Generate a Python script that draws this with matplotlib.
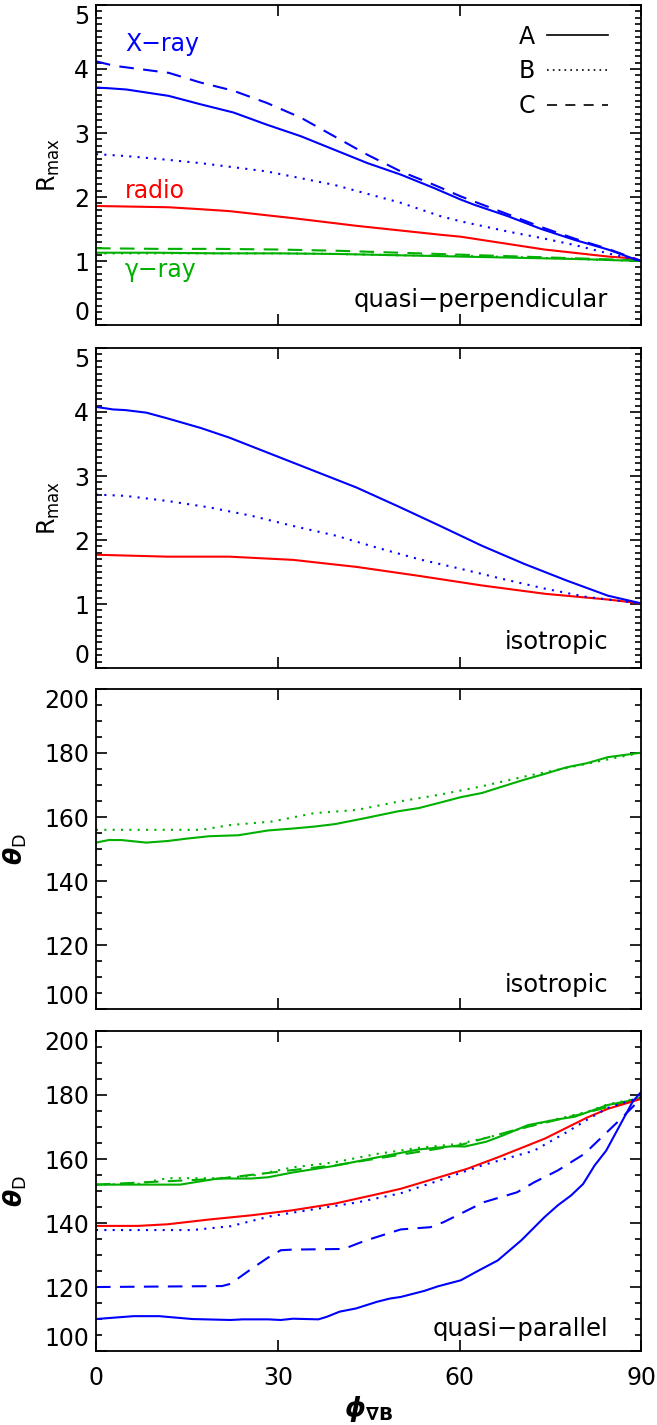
import matplotlib
matplotlib.use("Agg")
import numpy as np
import matplotlib.pyplot as plt
from matplotlib.lines import Line2D

plt.rcParams['font.family'] = ['DejaVu Sans']
plt.rcParams['mathtext.fontset'] = 'dejavusans'

BLUE = '#0000ff'
RED = '#ff0000'
GREEN = '#00b000'
DOT = (0, (1, 3))
DASH = (0, (7, 4.5))

# ---- panel 1: quasi-perpendicular, R_max
p1_xray_a_x = [0, 2, 5, 12, 17.2, 22.7, 28.2, 33.8, 39.3, 44.8, 50.3, 55.8, 60.2, 62.4, 68, 73.5, 79, 84.5, 88.9, 90]
p1_xray_a_y = [3.71, 3.70, 3.68, 3.58, 3.45, 3.32, 3.13, 2.95, 2.74, 2.53, 2.35, 2.14, 1.96, 1.88, 1.70, 1.50, 1.33,
               1.18, 1.03, 1.0]
p1_xray_b_x = [0, 5, 12, 17.2, 28.2, 39.3, 50.3, 56.9, 60.2, 68, 73.5, 79, 84.5, 90]
p1_xray_b_y = [2.67, 2.64, 2.58, 2.53, 2.40, 2.19, 1.91, 1.70, 1.62, 1.46, 1.36, 1.25, 1.12, 1.0]
p1_xray_c_x = [0, 3, 12, 17.2, 22.7, 28.2, 33.8, 39.3, 44.8, 50.3, 55.8, 60.2, 62.4, 68, 73.5, 79, 84.5, 90]
p1_xray_c_y = [4.12, 4.05, 3.94, 3.79, 3.66, 3.47, 3.24, 2.95, 2.66, 2.40, 2.19, 2.01, 1.93, 1.73, 1.53, 1.35, 1.19, 1.0]
p1_radio_x = [0, 12, 17.2, 22, 32.5, 43, 56.9, 60.2, 74, 84.5, 88.9, 90]
p1_radio_y = [1.86, 1.84, 1.81, 1.78, 1.67, 1.55, 1.41, 1.38, 1.18, 1.07, 1.04, 1.0]
p1_gam_x = [0, 10, 20, 30, 40, 50, 60, 70, 80, 90]
p1_gam_a_y = [1.13, 1.13, 1.12, 1.12, 1.11, 1.09, 1.07, 1.05, 1.03, 1.0]
p1_gam_b_y = [1.12, 1.12, 1.12, 1.12, 1.11, 1.09, 1.08, 1.06, 1.03, 1.0]
p1_gam_c_y = [1.20, 1.19, 1.19, 1.18, 1.16, 1.13, 1.10, 1.07, 1.04, 1.01]

# ---- panel 2: isotropic, R_max
p2_xray_a_x = [0, 2.8, 4.8, 8.3, 11.8, 17.3, 22, 29, 36, 43, 50, 56.8, 63.7, 70.6, 77.6, 84.5, 90]
p2_xray_a_y = [4.08, 4.04, 4.03, 3.99, 3.90, 3.75, 3.6, 3.34, 3.08, 2.82, 2.52, 2.22, 1.91, 1.63, 1.37, 1.13, 1.01]
p2_xray_b_x = [0, 4.8, 11.8, 18.7, 25.6, 32.5, 39.5, 46.4, 53.3, 60.2, 67.2, 74.1, 81, 90]
p2_xray_b_y = [2.71, 2.69, 2.61, 2.51, 2.38, 2.22, 2.07, 1.88, 1.70, 1.55, 1.39, 1.24, 1.11, 1.01]
p2_radio_x = [0, 11.8, 22, 32.5, 43, 53.3, 63.7, 74.1, 84.5, 90]
p2_radio_y = [1.77, 1.74, 1.74, 1.69, 1.58, 1.44, 1.29, 1.16, 1.07, 1.01]

# ---- panel 3: isotropic, theta_D
p3_gam_a_x = [0, 2.1, 4.2, 8.3, 11.8, 15.2, 18.7, 23.5, 28.4, 32.5, 36, 39.5, 44.3, 49.9,
              53.3, 56.8, 60.2, 63.7, 67.2, 70.6, 74.1, 77.6, 81, 84.5, 90]
p3_gam_a_y = [152, 152.8, 152.8, 152, 152.5, 153.3, 154, 154.3, 155.8, 156.4, 157, 157.8, 159.6, 161.8,
              162.8, 164.5, 166.2, 167.5, 169.6, 171.6, 173.5, 175.5, 176.8, 178.7, 180.1]
p3_gam_b_x = [0, 17.3, 22.2, 29.1, 36, 43, 49.9, 56.8, 63.7, 70.6, 77.6, 84.5, 90]
p3_gam_b_y = [156, 156, 157.5, 158.6, 161.2, 162.2, 164.8, 167, 169.6, 172.6, 175.3, 178, 180.1]

# ---- panel 4: quasi-parallel, theta_D
p4_xray_a_x = [0, 6.2, 10.4, 15.9, 22.2, 24.2, 28.4, 30.5, 32.5, 36.7, 38.1, 40.2, 42.9, 46.4, 48.5,
               50.3, 54.2, 56.4, 60.2, 63, 66.3, 70.2, 74, 76.2, 78.4, 80.4, 82.3, 84.2, 86.6, 88.6, 90]
p4_xray_a_y = [110, 110.9, 110.9, 110, 109.7, 109.9, 109.9, 109.7, 110.1, 109.9, 110.7, 112.3, 113.3, 115.4, 116.4,
               116.9, 118.8, 120.2, 122.1, 125, 128.3, 134.6, 141.8, 145.5, 148.6, 152.2, 158, 162.6, 171, 178, 181]
p4_xray_b_x = [0, 15.9, 22.2, 29, 36, 43, 50.3, 56.8, 63.7, 72.3, 77.6, 81, 84.5, 90]
p4_xray_b_y = [137.8, 137.8, 139, 142.2, 144.3, 146.4, 149.3, 153.4, 158, 162.6, 168.3, 172.2, 176, 179.4]
p4_xray_c_x = [0, 20.8, 22.2, 25.6, 28.4, 30.5, 32.5, 40.9, 44.3, 50.3, 55.2, 57.4, 64, 69.5, 72.3,
               76.2, 80.6, 86.6, 90]
p4_xray_c_y = [120, 120.3, 121, 125.6, 129.2, 131.5, 131.7, 131.9, 134.4, 138, 138.7, 140.3, 146.5, 149.6, 152.7,
               156.4, 161.6, 172.5, 179]
p4_radio_x = [0, 6.9, 11.8, 18.7, 25.6, 32.5, 39.5, 46.4, 50.3, 53.3, 61.2, 66.3, 74.1, 81, 84.5, 90]
p4_radio_y = [139.1, 139.1, 139.6, 141.1, 142.4, 144, 146.1, 149, 150.7, 152.4, 156.9, 160.5, 166.4, 172.9, 175.7,
              178.8]
p4_gam_a_x = [0, 13.9, 20.1, 25.6, 28.4, 32.5, 39.5, 46.4, 53.3, 58.9, 60.9, 64.4, 67.2, 71.3, 76.2, 79, 84.5, 90]
p4_gam_a_y = [152, 152, 153.9, 153.9, 154.3, 155.8, 157.9, 160.5, 163, 164, 163.9, 165.4, 167.4, 170.6, 172.4,
              173.2, 176.9, 178.9]
p4_gam_b_x = [0, 6.9, 11.8, 20.1, 25.6, 32.5, 39.5, 46.4, 53.3, 60.2, 67.2, 74.1, 81, 84.5, 90]
p4_gam_b_y = [152, 152.2, 154, 154, 154.7, 157.4, 159, 161.6, 163.5, 164.8, 167.9, 171.6, 174.7, 177.1, 179.2]
p4_gam_c_x = [0, 20, 40, 60, 70, 80, 90]
p4_gam_c_y = [152, 153.8, 158.2, 164.3, 169.5, 174, 179]

xticks = [0, 30, 60, 90]
lw = 1.5

fig = plt.figure(figsize=(6.57, 14.25), dpi=100)
left, width, height = 0.1461, 0.830, 0.2246
bottoms = [0.7719, 0.5312, 0.2919, 0.0519]
axes = [fig.add_axes([left, b, width, height]) for b in bottoms]


def style(ax, ylo, yhi, major, minor, show_x=False):
    ax.set_xlim(0, 90)
    ax.set_ylim(ylo, yhi)
    ax.set_xticks(xticks)
    ax.set_yticks(np.arange(ylo, yhi + major / 2, major))
    ax.set_yticks(np.arange(ylo, yhi + minor / 2, minor), minor=True)
    ax.tick_params(which='both', direction='in', top=True, right=True, width=1.2)
    ax.tick_params(which='major', length=8, labelsize=17, pad=5)
    ax.tick_params(which='minor', length=4.5)
    ax.tick_params(axis='x', pad=11)
    if not show_x:
        ax.set_xticklabels([])
    for s in ax.spines.values():
        s.set_linewidth(1.3)
    labs = ax.get_yticklabels()
    labs[0].set_va('bottom')
    labs[-1].set_va('top')


# panel 1
ax = axes[0]
ax.plot(p1_gam_x, p1_gam_c_y, color=GREEN, lw=lw, ls=DASH)
ax.plot(p1_gam_x, p1_gam_b_y, color=GREEN, lw=lw, ls=DOT)
ax.plot(p1_gam_x, p1_gam_a_y, color=GREEN, lw=lw)
ax.plot(p1_radio_x, p1_radio_y, color=RED, lw=lw)
ax.plot(p1_xray_b_x, p1_xray_b_y, color=BLUE, lw=lw, ls=DOT)
ax.plot(p1_xray_c_x, p1_xray_c_y, color=BLUE, lw=lw, ls=DASH)
ax.plot(p1_xray_a_x, p1_xray_a_y, color=BLUE, lw=lw)
style(ax, 0, 5, 1, 0.1)
ax.text(4.8, 4.39, 'X\u2212ray', color=BLUE, fontsize=17, va='center')
ax.text(4.8, 2.09, 'radio', color=RED, fontsize=17, va='center')
ax.text(4.8, 0.86, '\u03b3\u2212ray', color=GREEN, fontsize=17, va='center')
ax.text(84.5, 0.39, 'quasi\u2212perpendicular', fontsize=17.5, ha='right', va='center')
handles = [Line2D([], [], color='k', lw=1.2),
           Line2D([], [], color='k', lw=1.2, ls=(0, (1, 2.5))),
           Line2D([], [], color='k', lw=1.2, ls=(0, (6, 5)))]
ax.legend(handles, ['A', 'B', 'C'], loc='upper right', bbox_to_anchor=(0.97, 0.99),
          frameon=False, markerfirst=False, fontsize=17, handlelength=2.6,
          handletextpad=0.5, labelspacing=0.45, borderpad=0.2)
ax.set_ylabel(r'R$_{\rm max}$', fontsize=17)
ax.yaxis.set_label_coords(-0.062, 0.5)

# panel 2
ax = axes[1]
ax.plot(p2_radio_x, p2_radio_y, color=RED, lw=lw)
ax.plot(p2_xray_b_x, p2_xray_b_y, color=BLUE, lw=lw, ls=DOT)
ax.plot(p2_xray_a_x, p2_xray_a_y, color=BLUE, lw=lw)
style(ax, 0, 5, 1, 0.1)
ax.text(84.5, 0.4, 'isotropic', fontsize=17.5, ha='right', va='center')
ax.set_ylabel(r'R$_{\rm max}$', fontsize=17)
ax.yaxis.set_label_coords(-0.062, 0.5)

# panel 3
ax = axes[2]
ax.plot(p3_gam_b_x, p3_gam_b_y, color=GREEN, lw=lw, ls=DOT)
ax.plot(p3_gam_a_x, p3_gam_a_y, color=GREEN, lw=lw)
style(ax, 100, 200, 20, 5)
ax.text(84.5, 107.6, 'isotropic', fontsize=17.5, ha='right', va='center')
ax.set_ylabel(r'$\mathbfit{\theta}_{\rm D}$', fontsize=18)
ax.yaxis.set_label_coords(-0.123, 0.5)

# panel 4
ax = axes[3]
ax.plot(p4_gam_c_x, p4_gam_c_y, color=GREEN, lw=lw, ls=DASH)
ax.plot(p4_gam_b_x, p4_gam_b_y, color=GREEN, lw=lw, ls=DOT)
ax.plot(p4_gam_a_x, p4_gam_a_y, color=GREEN, lw=lw)
ax.plot(p4_radio_x, p4_radio_y, color=RED, lw=lw)
ax.plot(p4_xray_b_x, p4_xray_b_y, color=BLUE, lw=lw, ls=DOT)
ax.plot(p4_xray_c_x, p4_xray_c_y, color=BLUE, lw=lw, ls=DASH)
ax.plot(p4_xray_a_x, p4_xray_a_y, color=BLUE, lw=lw)
style(ax, 100, 200, 20, 5, show_x=True)
ax.text(84.5, 107, 'quasi\u2212parallel', fontsize=17.5, ha='right', va='center')
ax.set_ylabel(r'$\mathbfit{\theta}_{\rm D}$', fontsize=18)
ax.yaxis.set_label_coords(-0.123, 0.5)
ax.set_xlabel(r'$\mathbfit{\phi}_{\mathbf{\nabla B}}$', fontsize=19, labelpad=2)

fig.savefig('out.png', dpi=100)
